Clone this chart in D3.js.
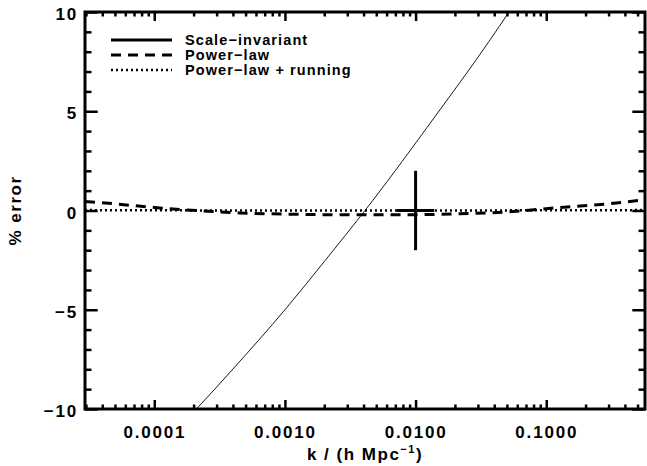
<!DOCTYPE html>
<html>
<head>
<meta charset="utf-8">
<script src="https://cdn.jsdelivr.net/npm/d3@7"></script>
<style>
  body { margin: 0; background: #fff; }
  text { font-family: "Liberation Sans", Arial, sans-serif; font-weight: bold; fill: #000; }
</style>
</head>
<body>
<div id="chart"></div>
<script>
// scale-invariant model (thin solid)
var kScaleInv = [1.9e-4, 2.1e-4, 3.8e-4, 1.03e-3, 2.03e-3, 4.1e-3, 4.67e-3, 1.33e-2, 3.72e-2, 5.12e-2, 5.6e-2];
var errScaleInv = [-10.3, -10.0, -8.15, -4.9, -2.52, 0.0, 0.48, 4.51, 8.6, 9.95, 10.35];

// power-law (dashed)
var kPow = [2.95e-5, 3.8e-5, 1.1e-4, 4.5e-4, 1.5e-3, 4e-3, 1e-2, 2.1e-2, 5.0e-2, 1.45e-1, 2.6e-1, 0.57];
var errPow = [0.45, 0.4, 0.13, -0.12, -0.2, -0.22, -0.21, -0.17, -0.07, 0.18, 0.3, 0.55];

// power-law + running (dotted)
var kRun = [2.95e-5, 1e-4, 1e-3, 1e-2, 1e-1, 0.57];
var errRun = [0.02, 0.01, 0.0, 0.0, 0.01, 0.02];

// error cross at the pivot
var crossK = [0.01];
var crossErr = [0];
var crossKLo = [0.0072];
var crossKHi = [0.0139];
var crossErrBar = [2];

var xMajor = [1e-4, 1e-3, 1e-2, 1e-1];
var yMajor = [-10, -5, 0, 5, 10];
var legendNames = ["Scale\u2212invariant", "Power\u2212law", "Power\u2212law + running"];

var W = 647, H = 466;
var plotL = 85, plotR = 645, plotT = 12, plotB = 409;

var x = d3.scaleLog().domain([2.95e-5, 0.57]).range([plotL, plotR]);
var y = d3.scaleLinear().domain([-10, 10]).range([plotB, plotT]);

var xMinor = [];
[1e-5, 1e-4, 1e-3, 1e-2, 1e-1].forEach(function (d) {
    for (var i = 2; i <= 9; i++) {
        var v = d * i;
        if (v > 2.95e-5 && v < 0.57) xMinor.push(v);
    }
});
var yMinor = d3.range(-10, 11).filter(function (d) { return d % 5 != 0; });

var svg = d3.select("#chart").append("svg")
    .attr("width", W)
    .attr("height", H);

svg.append("defs").append("clipPath").attr("id", "clip")
    .append("rect")
    .attr("x", plotL).attr("y", plotT)
    .attr("width", plotR - plotL).attr("height", plotB - plotT);

// axes: ticks pointing inward on all four sides
function styleAxis(g) {
    g.select(".domain").remove();
    g.selectAll(".tick line").attr("stroke", "#000").attr("stroke-width", 2.5);
    g.selectAll(".tick text").style("font-size", "17px").style("letter-spacing", "1.8px");
}

svg.append("g")
    .attr("transform", "translate(0," + plotB + ")")
    .call(d3.axisBottom(x).tickValues(xMajor).tickSize(-9).tickPadding(17)
        .tickFormat(d3.format(".4f")))
    .call(styleAxis);
svg.append("g")
    .attr("transform", "translate(0," + plotB + ")")
    .call(d3.axisBottom(x).tickValues(xMinor).tickSize(-4.5).tickFormat(""))
    .call(styleAxis);
svg.append("g")
    .attr("transform", "translate(0," + plotT + ")")
    .call(d3.axisTop(x).tickValues(xMajor).tickSize(-9).tickFormat(""))
    .call(styleAxis);
svg.append("g")
    .attr("transform", "translate(0," + plotT + ")")
    .call(d3.axisTop(x).tickValues(xMinor).tickSize(-4.5).tickFormat(""))
    .call(styleAxis);

svg.append("g")
    .attr("transform", "translate(" + plotL + ",0)")
    .call(d3.axisLeft(y).tickValues(yMajor).tickSize(-12.7).tickPadding(7)
        .tickFormat(d3.format("d")))
    .call(styleAxis)
    .selectAll(".tick text").attr("dy", "0.45em");
svg.append("g")
    .attr("transform", "translate(" + plotL + ",0)")
    .call(d3.axisLeft(y).tickValues(yMinor).tickSize(-6.5).tickFormat(""))
    .call(styleAxis);
svg.append("g")
    .attr("transform", "translate(" + plotR + ",0)")
    .call(d3.axisRight(y).tickValues(yMajor).tickSize(-12.7).tickFormat(""))
    .call(styleAxis);
svg.append("g")
    .attr("transform", "translate(" + plotR + ",0)")
    .call(d3.axisRight(y).tickValues(yMinor).tickSize(-6.5).tickFormat(""))
    .call(styleAxis);

// curves
function series(ks, vs) {
    return ks.map(function (k, i) { return {k: k, v: vs[i]}; });
}
var line = d3.line()
    .x(function (d) { return x(d.k); })
    .y(function (d) { return y(d.v); })
    .curve(d3.curveMonotoneX);

var plot = svg.append("g").attr("clip-path", "url(#clip)");

plot.append("path")
    .datum(series(kScaleInv, errScaleInv))
    .attr("d", line)
    .attr("fill", "none").attr("stroke", "#000").attr("stroke-width", 0.9);

plot.append("path")
    .datum(series(kPow, errPow))
    .attr("d", line)
    .attr("fill", "none").attr("stroke", "#000").attr("stroke-width", 3)
    .attr("stroke-dasharray", "10,7");

plot.append("path")
    .datum(series(kRun, errRun))
    .attr("d", line)
    .attr("fill", "none").attr("stroke", "#000").attr("stroke-width", 2.5)
    .attr("stroke-dasharray", "2,3");

// error cross
crossK.forEach(function (k, i) {
    plot.append("line")
        .attr("x1", x(crossKLo[i])).attr("x2", x(crossKHi[i]))
        .attr("y1", y(crossErr[i])).attr("y2", y(crossErr[i]))
        .attr("stroke", "#000").attr("stroke-width", 3);
    plot.append("line")
        .attr("x1", x(k)).attr("x2", x(k))
        .attr("y1", y(crossErr[i] - crossErrBar[i])).attr("y2", y(crossErr[i] + crossErrBar[i]))
        .attr("stroke", "#000").attr("stroke-width", 3);
});

// frame
svg.append("rect")
    .attr("x", plotL).attr("y", plotT)
    .attr("width", plotR - plotL).attr("height", plotB - plotT)
    .attr("fill", "none").attr("stroke", "#000").attr("stroke-width", 3);

// legend
var dashes = [null, "10,7", "2,3"];
var widths = [3, 3, 2.5];
legendNames.forEach(function (name, i) {
    var ly = 40 + i * 15;
    svg.append("line")
        .attr("x1", 111).attr("x2", 172)
        .attr("y1", ly).attr("y2", ly)
        .attr("stroke", "#000").attr("stroke-width", widths[i])
        .attr("stroke-dasharray", dashes[i]);
    svg.append("text")
        .attr("x", 185).attr("y", ly + 5)
        .style("font-size", "14.5px").style("letter-spacing", "1.1px")
        .text(name);
});

// axis titles
var xt = svg.append("text")
    .attr("x", (plotL + plotR) / 2).attr("y", 460)
    .attr("text-anchor", "middle")
    .style("font-size", "17px").style("letter-spacing", "1.5px");
xt.append("tspan").text("k / (h Mpc");
xt.append("tspan").attr("dy", -7).style("font-size", "11px").text("\u22121");
xt.append("tspan").attr("dy", 7).text(")");

svg.append("text")
    .attr("transform", "translate(21," + ((plotT + plotB) / 2) + ") rotate(-90)")
    .attr("text-anchor", "middle")
    .style("font-size", "17px").style("letter-spacing", "1.5px")
    .text("% error");
</script>
</body>
</html>
